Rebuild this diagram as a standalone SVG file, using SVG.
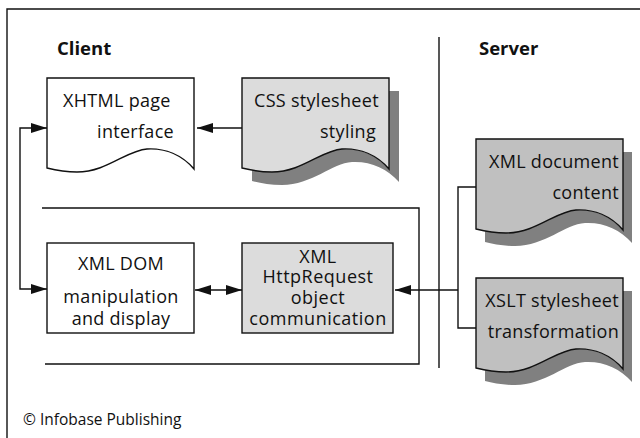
<svg xmlns="http://www.w3.org/2000/svg" xmlns:xlink="http://www.w3.org/1999/xlink" width="640" height="438" viewBox="0 0 640 438">
<style>
  text { font-family: "Open Sans", "Noto Sans", "DejaVu Sans", sans-serif; fill: #111; }
  .t { font-size: 18px; letter-spacing: 0.3px; }
  .tc { font-size: 18px; letter-spacing: 0.3px; text-anchor: middle; }
  .tr { font-size: 18px; letter-spacing: 0.3px; text-anchor: end; }
  .x { letter-spacing: 0.5px; }
  .h { font-size: 18.5px; font-weight: bold; }
  .ln { fill: none; stroke: #111; stroke-width: 1.4; }
  .shadow { fill: #808080; stroke: none; }
  .white { fill: #ffffff; stroke: #111; stroke-width: 1.4; }
  .light { fill: #dcdcdc; stroke: #111; stroke-width: 1.4; }
  .mid { fill: #c0c0c0; stroke: #111; stroke-width: 1.4; }
</style>
<defs>
  <path id="doc" d="M0,0 H147 V91 C135,77 118,70 100,71 C80,72 60,94 30,94 C18,94 8,92 0,90 Z"/>
  <marker id="ah" markerUnits="userSpaceOnUse" markerWidth="16" markerHeight="10" refX="16" refY="5" orient="auto-start-reverse">
    <path d="M0,0 L16,5 L0,10 Z" fill="#111"/>
  </marker>
</defs>
<rect width="640" height="438" fill="#ffffff"/>
<g id="frame">
  <path class="ln" d="M7,445 V9 H645"/>
  <path class="ln" d="M439,37 V368"/>
  <path class="ln" d="M42,208 H419 V364 H45"/>
  <text class="h" x="57" y="55">Client</text>
  <text class="h" x="479" y="55">Server</text>
</g>
<g id="xhtml">
  <use xlink:href="#doc" x="47" y="78" class="white"/>
  <text class="t" x="63" y="107">XHTML page</text>
  <text class="tr" x="174" y="138">interface</text>
</g>
<g id="css">
  <use xlink:href="#doc" x="252" y="91" class="shadow"/>
  <use xlink:href="#doc" x="242" y="78" class="light"/>
  <text class="t" x="254" y="107">CSS stylesheet</text>
  <text class="tr" x="376" y="138">styling</text>
</g>
<g id="xmldoc">
  <use xlink:href="#doc" x="485" y="152" class="shadow"/>
  <use xlink:href="#doc" x="476" y="139" class="mid"/>
  <text class="tr" x="619" y="168">XML document</text>
  <text class="tr" x="619" y="199">content</text>
</g>
<g id="xslt">
  <use xlink:href="#doc" x="485" y="291" class="shadow"/>
  <use xlink:href="#doc" x="476" y="278" class="mid"/>
  <text class="tr" x="619" y="307">XSLT stylesheet</text>
  <text class="tr" x="619" y="338">transformation</text>
</g>
<g id="xmldom">
  <rect class="white" x="47" y="243" width="147" height="90"/>
  <text class="tc" x="121" y="270">XML DOM</text>
  <text class="tc" x="121" y="303">manipulation</text>
  <text class="tc" x="121" y="325">and display</text>
</g>
<g id="xhr">
  <rect class="light" x="242" y="243" width="151" height="90"/>
  <text class="tc x" x="318" y="263">XML</text>
  <text class="tc x" x="318" y="283">HttpRequest</text>
  <text class="tc x" x="318" y="304">object</text>
  <text class="tc x" x="318" y="325">communication</text>
</g>
<g id="connectors">
  <path class="ln" d="M242,128 H197" marker-end="url(#ah)"/>
  <path class="ln" d="M47,128 H20 V289 H47" marker-start="url(#ah)" marker-end="url(#ah)"/>
  <path class="ln" d="M195,290 H242" marker-start="url(#ah)" marker-end="url(#ah)"/>
  <path class="ln" d="M476,187 H458 V328 H476"/>
  <path class="ln" d="M458,290 H395" marker-end="url(#ah)"/>
</g>
<g id="credit">
  <text x="23" y="425" font-size="15.5">© Infobase Publishing</text>
</g>
</svg>
